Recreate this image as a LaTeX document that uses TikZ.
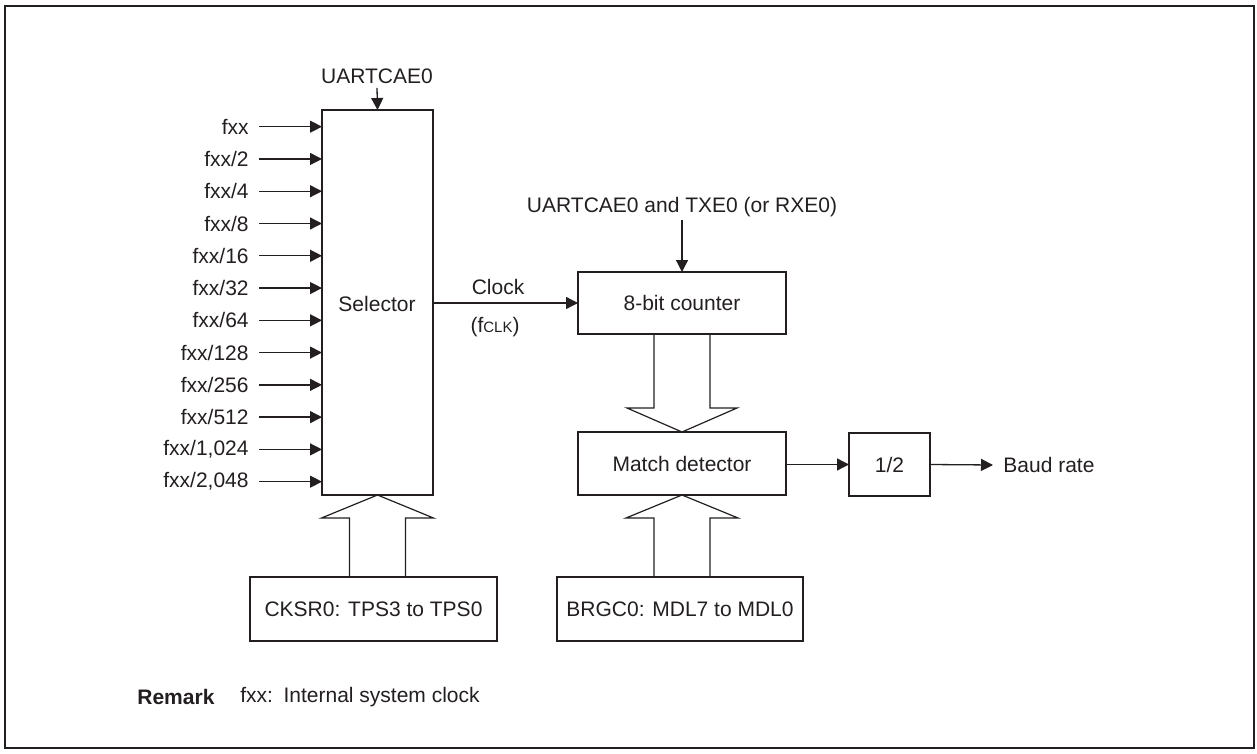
\documentclass[tikz,border=0pt]{standalone}
\usepackage{fontspec}
\setmainfont{Liberation Sans}
\usetikzlibrary{arrows.meta,calc}
\definecolor{ink}{RGB}{35,31,32}
\begin{document}
\begin{tikzpicture}[x=0.5pt,y=-0.5pt,
  every node/.style={font=\fontsize{10.5}{12}\selectfont, text=ink},
  blockbox/.style={draw=ink, line width=1.25pt, inner sep=0pt, outer sep=0pt},
  arr/.style={draw=ink, line width=0.65pt, -{Triangle[length=6pt,width=6pt]}},
  hollow/.style={draw=ink, line width=0.6pt, line join=miter},
  inlab/.style={anchor=east, inner xsep=5pt, inner ysep=0pt}
]
\useasboundingbox (0,0) rectangle (1257,754);
\draw[draw=ink, line width=1.1pt] (5,6) rectangle (1254,748);

% blocks
\node[blockbox, minimum width=55.5pt, minimum height=192.5pt] (sel) at (377.5,302.5) {};
\node at (377,304) (seltext) {Selector};
\node[blockbox, minimum width=104pt, minimum height=31pt] (cnt) at (682,303) {8-bit counter};
\node[blockbox, minimum width=104pt, minimum height=31.5pt] (mat) at (682,463.5) {Match detector};
\node[blockbox, minimum width=40.5pt, minimum height=31.5pt] (half) at (889.5,464.5) {1/2};
\node[blockbox, minimum width=123.5pt, minimum height=32pt] (cks) at (373.5,609) {CKSR0: TPS3 to TPS0};
\node[blockbox, minimum width=123pt, minimum height=32pt] (brg) at (680,609) {BRGC0: MDL7 to MDL0};

% top labels
\node[inner sep=2pt] (ua) at (377,76) {UARTCAE0};
\draw[arr] (ua.south) -- (sel.north);
\node[inner sep=1.5pt] (ut) at (682,207) {UARTCAE0 and TXE0 (or RXE0)};
\draw[arr] (ut.south) -- (cnt.north);

% inputs
\foreach \i/\t in {0/{fxx},1/{fxx/2},2/{fxx/4},3/{fxx/8},4/{fxx/16},5/{fxx/32},6/{fxx/64},7/{fxx/128},8/{fxx/256},9/{fxx/512},10/{fxx/1{,}024},11/{fxx/2{,}048}}{
  \node[inlab] (in\i) at (259,126.7+32.27*\i) {\t};
  \draw[arr] (in\i.east) -- (in\i.east -| sel.west);
}

% clock
\draw[arr] (sel.east |- cnt.west) -- (cnt.west);
\node (clk) at (498,287) {Clock};
\node (fclk) at (495,327) {(f{\fontsize{7.5}{9}\selectfont CLK})};

% match -> half -> baud
\draw[arr] (mat.east |- half.west) -- (half.west);
\node[anchor=west, inner xsep=5pt] (baud) at (993,465) {Baud rate};
\draw[arr] (half.east) -- (baud.west);

% hollow arrows
\draw[hollow] (mat.north) ++(-28,-98) -- ++(0,74) -- ++(-27,0) -- (mat.north) -- ++(55,-24) -- ++(-27,0) -- ++(0,-74);
\draw[hollow] (sel.south) ++(-28,82) -- ++(0,-59) -- ++(-28,0) -- (sel.south) -- ++(56,23) -- ++(-28,0) -- ++(0,59);
\draw[hollow] (mat.south) ++(-28,82) -- ++(0,-59) -- ++(-28,0) -- (mat.south) -- ++(56,23) -- ++(-28,0) -- ++(0,59);

% remark
\node[anchor=west, inner sep=0pt, font=\fontsize{10.5}{12}\selectfont\bfseries] (rem) at (137,697) {Remark};
\node[anchor=west, inner sep=0pt] (remt) at (240,697) {fxx:\enspace Internal system clock};
\end{tikzpicture}
\end{document}
